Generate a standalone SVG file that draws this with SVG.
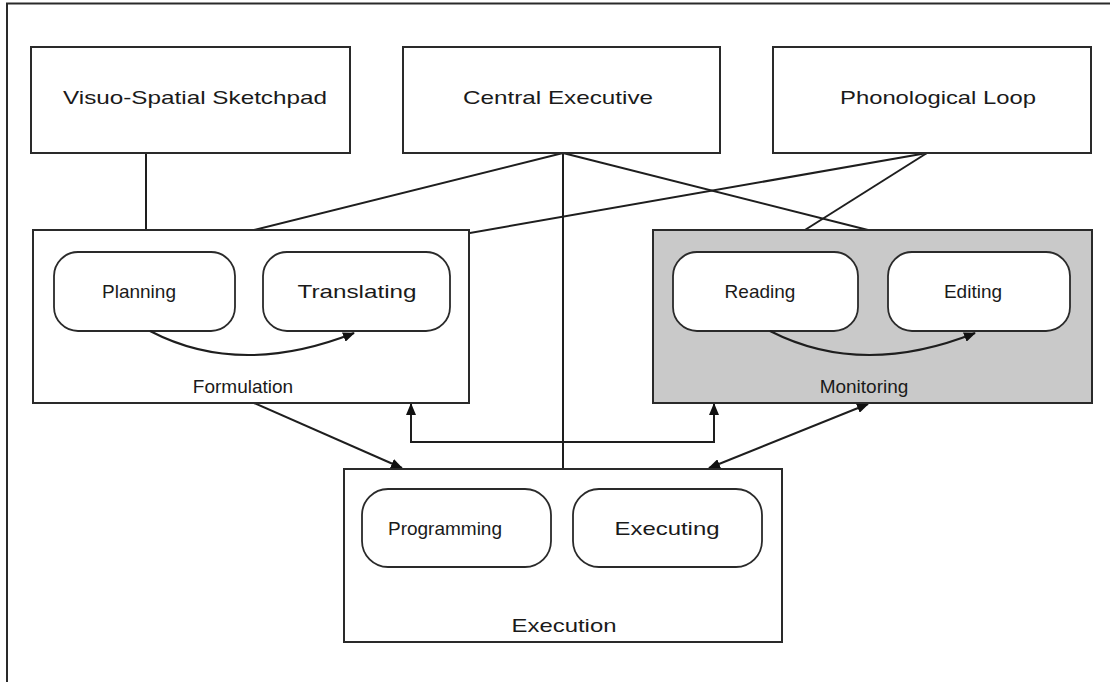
<svg xmlns="http://www.w3.org/2000/svg" width="1110" height="682" viewBox="0 0 1110 682">
  <style>
    .box { fill: #ffffff; stroke: #2a2a2a; stroke-width: 2; }
    .grey { fill: #c9c9c9; }
    .sub { fill: #ffffff; stroke: #2a2a2a; stroke-width: 1.8; }
    .wire { fill: none; stroke: #1e1e1e; stroke-width: 2; }
    .lbl { font-family: "Liberation Sans", Arial, sans-serif; font-size: 19px; fill: #1a1a1a; text-anchor: middle; }
  </style>
  <defs>
    <marker id="arrow" viewBox="0 0 12 10" refX="11" refY="5" markerWidth="12" markerHeight="10" markerUnits="userSpaceOnUse" orient="auto-start-reverse">
      <path d="M0,0 L12,5 L0,10 Z" fill="#111111"/>
    </marker>
  </defs>

  <rect width="1110" height="682" fill="#ffffff"/>
  <!-- frame -->
  <path d="M7,682 V3.5 H1110" fill="none" stroke="#2a2a2a" stroke-width="2"/>

  <!-- connectors -->
  <g id="connectors">
    <line class="wire" x1="146" y1="153" x2="146" y2="252"/>
    <line class="wire" x1="563" y1="153" x2="254" y2="230"/>
    <line class="wire" x1="563" y1="153" x2="563" y2="469"/>
    <line class="wire" x1="563" y1="153" x2="868" y2="230"/>
    <line class="wire" x1="927" y1="153" x2="361" y2="252"/>
    <line class="wire" x1="927" y1="153" x2="770" y2="252"/>
    <line class="wire" x1="254" y1="403" x2="402" y2="468" marker-end="url(#arrow)"/>
    <polyline class="wire" points="411,404 411,442 714,442 714,404" marker-start="url(#arrow)" marker-end="url(#arrow)"/>
    <line class="wire" x1="709" y1="468" x2="868" y2="404" marker-start="url(#arrow)" marker-end="url(#arrow)"/>
  </g>

  <g id="visuo-spatial-sketchpad">
    <rect class="box" x="31" y="47" width="319" height="106"/>
    <text class="lbl" x="195" y="104" textLength="264" lengthAdjust="spacingAndGlyphs">Visuo-Spatial Sketchpad</text>
  </g>
  <g id="central-executive">
    <rect class="box" x="403" y="47" width="317" height="106"/>
    <text class="lbl" x="558" y="104" textLength="190" lengthAdjust="spacingAndGlyphs">Central Executive</text>
  </g>
  <g id="phonological-loop">
    <rect class="box" x="773" y="47" width="318" height="106"/>
    <text class="lbl" x="938" y="104" textLength="196" lengthAdjust="spacingAndGlyphs">Phonological Loop</text>
  </g>

  <g id="formulation">
    <rect class="box" x="33" y="230" width="436" height="173"/>
    <text class="lbl" x="243" y="393">Formulation</text>
    <g id="planning">
      <rect class="sub" x="54" y="252" width="181" height="79" rx="24"/>
      <text class="lbl" x="139" y="298">Planning</text>
    </g>
    <g id="translating">
      <rect class="sub" x="263" y="252" width="187" height="79" rx="24"/>
      <text class="lbl" x="357" y="298" textLength="119" lengthAdjust="spacingAndGlyphs">Translating</text>
    </g>
    <path class="wire" d="M150,331 Q240,378 354,333" marker-end="url(#arrow)"/>
  </g>

  <g id="monitoring">
    <rect class="box grey" x="653" y="230" width="439" height="173"/>
    <text class="lbl" x="864" y="393">Monitoring</text>
    <g id="reading">
      <rect class="sub" x="673" y="252" width="185" height="79" rx="24"/>
      <text class="lbl" x="760" y="298">Reading</text>
    </g>
    <g id="editing">
      <rect class="sub" x="888" y="252" width="182" height="79" rx="24"/>
      <text class="lbl" x="973" y="298">Editing</text>
    </g>
    <path class="wire" d="M770,331 Q862,378 975,333" marker-end="url(#arrow)"/>
  </g>

  <g id="execution">
    <rect class="box" x="344" y="469" width="438" height="173"/>
    <text class="lbl" x="564" y="632" textLength="105" lengthAdjust="spacingAndGlyphs">Execution</text>
    <g id="programming">
      <rect class="sub" x="362" y="489" width="189" height="78" rx="26"/>
      <text class="lbl" x="445" y="535">Programming</text>
    </g>
    <g id="executing">
      <rect class="sub" x="573" y="489" width="189" height="78" rx="26"/>
      <text class="lbl" x="667" y="535" textLength="105" lengthAdjust="spacingAndGlyphs">Executing</text>
    </g>
  </g>
</svg>
